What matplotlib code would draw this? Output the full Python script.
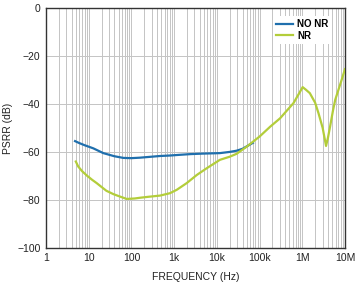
import matplotlib
matplotlib.use("Agg")
import matplotlib.pyplot as plt
from matplotlib.ticker import FixedLocator, LogLocator, NullFormatter

plt.rcParams['font.family'] = ['Liberation Sans', 'DejaVu Sans']

# NO NR curve (frequency Hz, PSRR dB)
nonr_f = [4.8, 6, 8, 12.8, 22, 40, 65, 100, 159, 468, 800, 1370, 2500, 4800, 11800, 20000, 29000, 40000, 50000, 70000]
nonr_db = [-55.5, -56.3, -57.2, -58.5, -60.5, -61.8, -62.5, -62.6, -62.4, -61.7, -61.5, -61.2, -60.9, -60.7, -60.5, -60.0, -59.5, -58.7, -57.7, -56.2]

# NR curve
nr_f = [5, 5.7, 7, 9, 12, 15.4, 20, 26, 38, 54, 78, 120, 159, 250, 468, 800, 1150, 1970, 3400, 5800, 11800, 20000, 29000, 50000, 100000, 177000, 302000, 450000, 620000, 850000, 1020000, 1200000, 1500000, 2000000, 2400000, 3000000, 3600000, 4000000, 4470000, 5200000, 5900000, 8000000, 10000000]
nr_db = [-64, -66.1, -68, -69.8, -71.6, -73, -74.6, -76.2, -77.6, -78.6, -79.6, -79.4, -79.1, -78.7, -78.2, -77.2, -75.8, -73, -69.6, -66.8, -63.3, -62, -60.8, -57.8, -53.6, -49.5, -46, -42.5, -39.7, -35.5, -33, -34, -35.5, -39.5, -43.9, -50, -57.5, -54, -49.5, -43, -38.3, -31, -25.5]

xticks = [1, 10, 100, 1e3, 1e4, 1e5, 1e6, 1e7]
xticklabels = ['1', '10', '100', '1k', '10k', '100k', '1M', '10M']
yticks = [0, -20, -40, -60, -80, -100]

fig = plt.figure(figsize=(3.59, 2.83), dpi=100)
ax = fig.add_axes([0.128, 0.124, 0.833, 0.848])

ax.plot(nonr_f, nonr_db, color='#1f6fad', lw=1.6, label='NO NR', zorder=3)
ax.plot(nr_f, nr_db, color='#b3cd3a', lw=1.6, label='NR', zorder=3)

ax.set_xscale('log')
ax.set_xlim(1, 1e7)
ax.set_ylim(-100, 0)
ax.xaxis.set_major_locator(FixedLocator(xticks))
ax.set_xticklabels(xticklabels)
ax.xaxis.set_minor_locator(LogLocator(base=10, subs=range(2, 10), numticks=50))
ax.xaxis.set_minor_formatter(NullFormatter())
ax.set_yticks(yticks)
ax.set_yticklabels(['0', '−20', '−40', '−60', '−80', '−100'])

ax.grid(True, which='major', axis='both', color='#c4c4c4', lw=0.7)
ax.grid(True, which='minor', axis='x', color='#c4c4c4', lw=0.7)
ax.set_axisbelow(True)

ax.tick_params(axis='both', which='both', length=0, labelsize=7.5, pad=4, colors='#222222')
for s in ax.spines.values():
    s.set_color('#333333')
    s.set_linewidth(1.0)

ax.set_xlabel('FREQUENCY (Hz)', fontsize=7.5, labelpad=6, color='#222222')
ax.set_ylabel('PSRR (dB)', fontsize=7.5, labelpad=3, color='#222222')

leg = ax.legend(loc='upper right', bbox_to_anchor=(0.97, 0.985), fontsize=7, frameon=True,
                fancybox=False, handlelength=1.8, handletextpad=0.4, borderpad=0.3,
                labelspacing=0.15, edgecolor='none', framealpha=1.0)
for t in leg.get_texts():
    t.set_fontweight('bold')

fig.savefig('out.png', dpi=100)
